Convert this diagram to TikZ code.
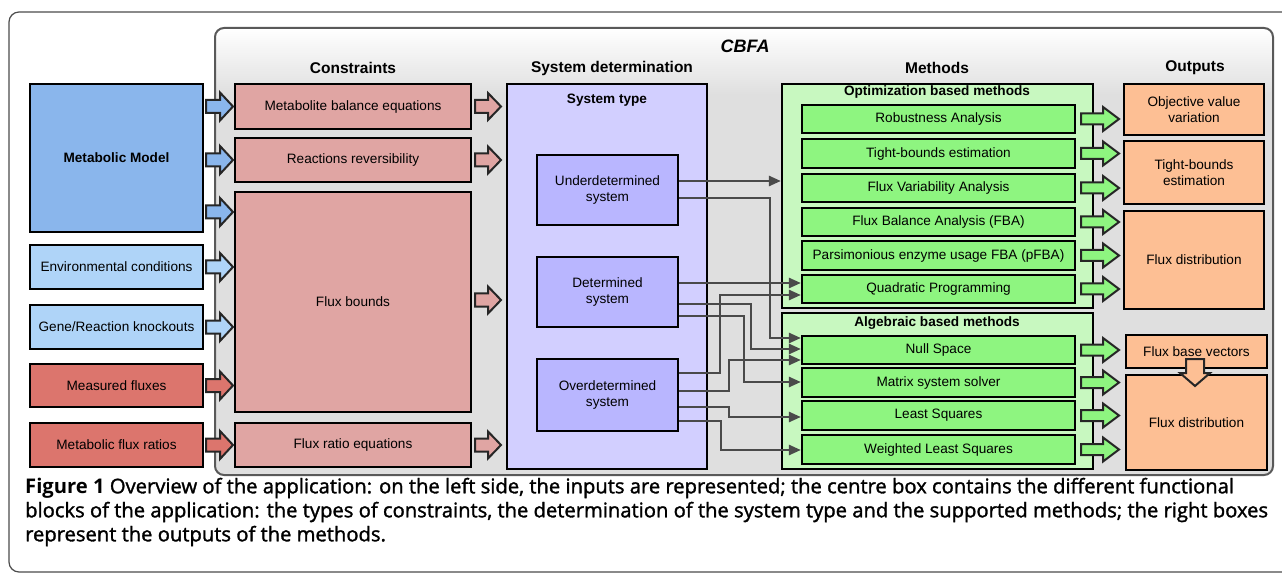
\documentclass[tikz,border=0pt]{standalone}
\usepackage{fontspec}
\setmainfont{Liberation Sans}
\newfontfamily\capfont{Open Sans}
\newfontfamily\capmed{Open Sans}[UprightFeatures={FakeBold=1.5}]
\usetikzlibrary{arrows.meta}
\definecolor{mmblue}{HTML}{8AB6EC}
\definecolor{ltblue}{HTML}{AFD4F8}
\definecolor{inred}{HTML}{DC756D}
\definecolor{cpink}{HTML}{E0A5A3}
\definecolor{lav}{HTML}{D2CFFF}
\definecolor{lavdark}{HTML}{B9B6FF}
\definecolor{grnlight}{HTML}{C8F8C0}
\definecolor{grnitem}{HTML}{8EF580}
\definecolor{peach}{HTML}{FDBF94}
\definecolor{conncol}{HTML}{4A4A4A}
\definecolor{cbfagray}{HTML}{DFDFDF}
\newcommand\fs{\fontsize{13.6}{15.5}\selectfont}
\newcommand\fb{\fontsize{13.6}{15.5}\selectfont\bfseries}
\newcommand\fh{\fontsize{15.5}{17}\selectfont\bfseries}
\newcommand{\bx}[7]{\node[box,#6,minimum width={#4-#2},minimum height={#5-#3}] (#1) at ({(#2+#4)/2},{(#3+#5)/2}) {#7};}
\newcommand{\barr}[8]{\draw[barstyle,fill=#4,shift={(#1,#2)},rotate=#3] (0,-#6) -- ({#5-#8},-#6) -- ({#5-#8},-#7) -- (#5,0) -- ({#5-#8},#7) -- ({#5-#8},#6) -- (0,#6) -- cycle;}
\begin{document}
\begin{tikzpicture}[x=1pt,y=-1pt,
  box/.style={draw=black, line width=2.2pt, inner sep=0pt, align=center, font=\fs},
  conn/.style={draw=conncol, line width=2.5pt, line join=miter, -{Triangle[length=12pt,width=10pt]}},
  barstyle/.style={draw=black!85, line width=2pt, line join=miter},
  hdr/.style={font=\fh, inner sep=0pt},
  sub/.style={font=\fb, inner sep=0pt},
  capline/.style={anchor=west, inner sep=0pt, font=\fontsize{20.2}{24}\selectfont\capmed}]
\useasboundingbox (0,0) rectangle (1282,577);
\fill[white] (0,0) rectangle (1282,577);
% outer frame
\draw[black!70, line width=1.2pt, rounded corners=10pt] (9,12) rectangle (1300,572);
% CBFA container
\fill[cbfagray, rounded corners=9pt] (215,28) rectangle (1273,475);
\shade[top color=white, bottom color=cbfagray, rounded corners=9pt] (215,28) rectangle (1273,95);
\draw[black!65, line width=2pt, rounded corners=9pt] (215,28) rectangle (1273,475);
\node[font=\fontsize{18}{20}\selectfont\bfseries\itshape, inner sep=0pt] (cbfa) at (745,46) {CBFA};
\node[hdr] (hcons) at (353,68) {Constraints};
\node[hdr] (hsys) at (612,68) {System determination};
\node[hdr] (hmeth) at (937,68) {Methods};
\node[hdr] (hout) at (1195,68) {Outputs};
% inputs
\bx{mm}{30}{84}{203}{232}{fill=mmblue,font=\fb}{Metabolic Model}
\bx{env}{30}{245}{203}{289}{fill=ltblue}{Environmental conditions}
\bx{gene}{30}{305}{203}{349}{fill=ltblue}{Gene/Reaction knockouts}
\bx{meas}{30}{364}{203}{407}{fill=inred}{Measured fluxes}
\bx{ratio}{30}{423}{203}{467}{fill=inred}{Metabolic flux ratios}
% constraints
\bx{mbe}{235}{84}{471}{129}{fill=cpink}{Metabolite balance equations}
\bx{rr}{235}{138}{471}{182}{fill=cpink}{Reactions reversibility}
\bx{fb}{235}{192}{471}{412}{fill=cpink}{Flux bounds}
\bx{fre}{235}{423}{471}{467}{fill=cpink}{Flux ratio equations}
% input arrows
\barr{206}{106.5}{0}{mmblue}{27}{6.5}{14}{13}
\barr{206}{160}{0}{mmblue}{27}{6.5}{14}{13}
\barr{206}{212}{0}{mmblue}{27}{6.5}{14}{13}
\barr{206}{267}{0}{ltblue}{27}{6.5}{14}{13}
\barr{206}{327}{0}{ltblue}{27}{6.5}{14}{13}
\barr{206}{385.5}{0}{inred}{27}{6.5}{14}{13}
\barr{206}{445}{0}{inred}{27}{6.5}{14}{13}
% constraint arrows
\barr{475}{106.5}{0}{cpink}{26}{6.5}{13.5}{13}
\barr{475}{160}{0}{cpink}{26}{6.5}{13.5}{13}
\barr{475}{300}{0}{cpink}{26}{6.5}{13.5}{13}
\barr{475}{445}{0}{cpink}{26}{6.5}{13.5}{13}
% system determination
\bx{sys}{507}{84}{707}{469}{fill=lav}{}
\node[sub] (systype) at (607,100) {System type};
\bx{under}{537}{155}{678}{225}{fill=lavdark}{Underdetermined\\system}
\bx{det}{537}{257}{678}{327}{fill=lavdark}{Determined\\system}
\bx{over}{537}{359}{678}{431}{fill=lavdark}{Overdetermined\\system}
% methods
\bx{opt}{782}{84}{1093}{308}{fill=grnlight}{}
\node[sub] (optt) at (937,92) {Optimization based methods};
\bx{rob}{802}{105}{1075}{133}{fill=grnitem}{Robustness Analysis}
\bx{tbe}{802}{139}{1075}{168}{fill=grnitem}{Tight-bounds estimation}
\bx{fva}{802}{174}{1075}{202}{fill=grnitem}{Flux Variability Analysis}
\bx{fba}{802}{208}{1075}{236}{fill=grnitem}{Flux Balance Analysis (FBA)}
\bx{pfba}{802}{241}{1075}{270}{fill=grnitem}{Parsimonious enzyme usage FBA (pFBA)}
\bx{qp}{802}{275}{1075}{303}{fill=grnitem}{Quadratic Programming}
\bx{alg}{782}{313}{1093}{469}{fill=grnlight}{}
\node[sub] (algt) at (937,323) {Algebraic based methods};
\bx{ns}{802}{336}{1075}{364}{fill=grnitem}{Null Space}
\bx{mss}{802}{368}{1075}{397}{fill=grnitem}{Matrix system solver}
\bx{ls}{802}{401}{1075}{430}{fill=grnitem}{Least Squares}
\bx{wls}{802}{435}{1075}{464}{fill=grnitem}{Weighted Least Squares}
% method arrows
\foreach \yy in {119,153.5,188,222,255.5,289,350,382.5,415.5,449.5}{\barr{1081}{\yy}{0}{grnitem}{38}{5.5}{12}{16}}
% outputs
\bx{ov}{1124}{84}{1264}{135}{fill=peach}{Objective value\\variation}
\bx{tb}{1124}{141}{1264}{204}{fill=peach}{Tight-bounds\\estimation}
\bx{fd1}{1124}{211}{1264}{309}{fill=peach}{Flux distribution}
\bx{fbv}{1126}{335}{1267}{368}{fill=peach}{Flux base vectors}
\bx{fd2}{1126}{375}{1267}{470}{fill=peach}{Flux distribution}
\barr{1195}{359}{-90}{peach}{27}{9}{15}{13}
% connectors
\draw[conn] (under.east |- 0,181) -- (opt.west |- 0,181);
\draw[conn] (under.east |- 0,198) -| (770,338) -- (ns.west |- 0,338);
\draw[conn] (det.east |- 0,283) -- (qp.west |- 0,283);
\draw[conn] (det.east |- 0,304) -| (751,349) -- (ns.west |- 0,349);
\draw[conn] (det.east |- 0,316) -| (744,382) -- (mss.west |- 0,382);
\draw[conn] (over.east |- 0,373) -| (720,295) -- (qp.west |- 0,295);
\draw[conn] (over.east |- 0,391) -| (729,360) -- (ns.west |- 0,360);
\draw[conn] (over.east |- 0,407) -| (729,417) -- (ls.west |- 0,417);
\draw[conn] (over.east |- 0,421) -| (721,450) -- (wls.west |- 0,450);
% caption
\node[capline] (cap1) at (25,488) {{\capfont\bfseries Figure 1} Overview of the application: on the left side, the inputs are represented; the centre box contains the different functional};
\node[capline] (cap2) at (25,512) {blocks of the application: the types of constraints, the determination of the system type and the supported methods; the right boxes};
\node[capline] (cap3) at (25,536) {represent the outputs of the methods.};
\end{tikzpicture}
\end{document}
